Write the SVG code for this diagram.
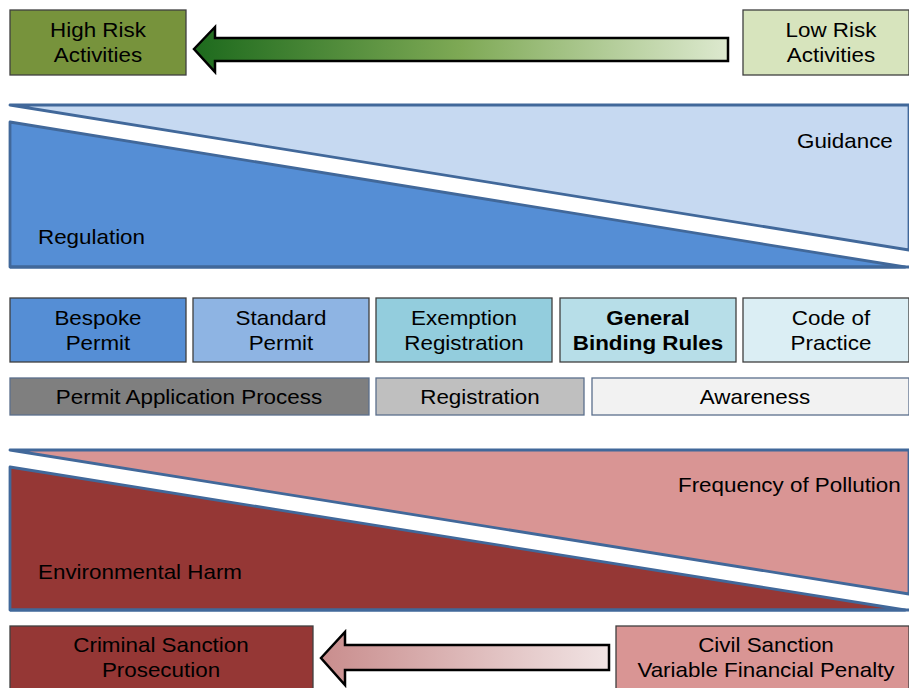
<svg xmlns="http://www.w3.org/2000/svg" width="909" height="688" viewBox="0 0 909 688">
<style>
text{font-family:"Liberation Sans",Arial,sans-serif;font-size:20px;fill:#000;text-anchor:middle;transform-box:fill-box;transform-origin:center;transform:scaleX(1.12)}
.l{text-anchor:start;transform-origin:left center}
.box{stroke:#3f3f3f;stroke-width:1.3}
.box2{stroke:#5b6f8c;stroke-width:1.3}
.wedge{stroke:#41689a;stroke-width:2.8;stroke-linejoin:round}
.arrow{stroke:#000;stroke-width:2.5;stroke-linejoin:miter}
</style>
<defs>
<linearGradient id="gGreen" x1="0" y1="0" x2="1" y2="0">
<stop offset="0" stop-color="#1d6a1d"/>
<stop offset="0.5" stop-color="#7ea955"/>
<stop offset="1" stop-color="#dde9cf"/>
</linearGradient>
<linearGradient id="gRed" x1="0" y1="0" x2="1" y2="0">
<stop offset="0" stop-color="#c98d8d"/>
<stop offset="1" stop-color="#f1e4e4"/>
</linearGradient>
</defs>

<g id="high-risk"><rect class="box" x="10" y="10" width="176" height="65" fill="#77933c"/><text x="98" y="37">High Risk</text><text x="98" y="62">Activities</text></g>
<g id="low-risk"><rect class="box" x="743" y="10" width="166" height="65" fill="#d7e4bd"/><text x="831" y="37">Low Risk</text><text x="831" y="62">Activities</text></g>

<g id="regulation-band">
<polygon class="wedge" points="10,105 909,105 909,250" fill="#c6d9f1"/>
<polygon class="wedge" points="10,122 905,267 10,267" fill="#558ed5"/>
<line class="wedge" x1="10" y1="267" x2="909" y2="267"/>
<text class="l" x="797" y="148">Guidance</text>
<text class="l" x="38" y="244">Regulation</text>
</g>

<g id="bespoke"><rect class="box" x="10" y="298" width="176" height="64" fill="#558ed5"/><text x="98" y="325">Bespoke</text><text x="98" y="350">Permit</text></g>
<g id="standard"><rect class="box" x="193" y="298" width="176" height="64" fill="#8eb4e3"/><text x="281" y="325">Standard</text><text x="281" y="350">Permit</text></g>
<g id="exemption"><rect class="box" x="376" y="298" width="176" height="64" fill="#93cddd"/><text x="464" y="325">Exemption</text><text x="464" y="350">Registration</text></g>
<g id="gbr"><rect class="box" x="560" y="298" width="176" height="64" fill="#b7dee8"/><text x="648" y="325" font-weight="bold">General</text><text x="648" y="350" font-weight="bold">Binding Rules</text></g>
<g id="cop"><rect class="box" x="743" y="298" width="166" height="64" fill="#dbeef4"/><text x="831" y="325">Code of</text><text x="831" y="350">Practice</text></g>

<g id="pap"><rect class="box2" x="10" y="378" width="359" height="37" fill="#7f7f7f"/><text x="189" y="404">Permit Application Process</text></g>
<g id="registration"><rect class="box2" x="376" y="378" width="208" height="37" fill="#bfbfbf"/><text x="480" y="404">Registration</text></g>
<g id="awareness"><rect class="box2" x="592" y="378" width="317" height="37" fill="#f2f2f2"/><text x="755" y="404">Awareness</text></g>

<g id="harm-band">
<polygon class="wedge" points="10,450 909,450 909,594" fill="#d99594"/>
<polygon class="wedge" points="10,467 905,610 10,610" fill="#953735"/>
<line class="wedge" x1="10" y1="610" x2="909" y2="610"/>
<text class="l" x="678" y="492">Frequency of Pollution</text>
<text class="l" x="38" y="579">Environmental Harm</text>
</g>

<g id="criminal"><rect class="box" x="10" y="626" width="303" height="70" fill="#953735"/><text x="161" y="652">Criminal Sanction</text><text x="161" y="677">Prosecution</text></g>
<g id="civil"><rect class="box" x="616" y="626" width="293" height="70" fill="#d99594"/><text x="766" y="652">Civil Sanction</text><text x="766" y="677">Variable Financial Penalty</text></g>

<g id="connectors">
<polygon class="arrow" points="194,49 215,27 215,38 728,38 728,61 215,61 215,72" fill="url(#gGreen)"/>
<polygon class="arrow" points="321,658 345,632 345,645 609,645 609,670 345,670 345,685" fill="url(#gRed)"/>
</g>
</svg>
